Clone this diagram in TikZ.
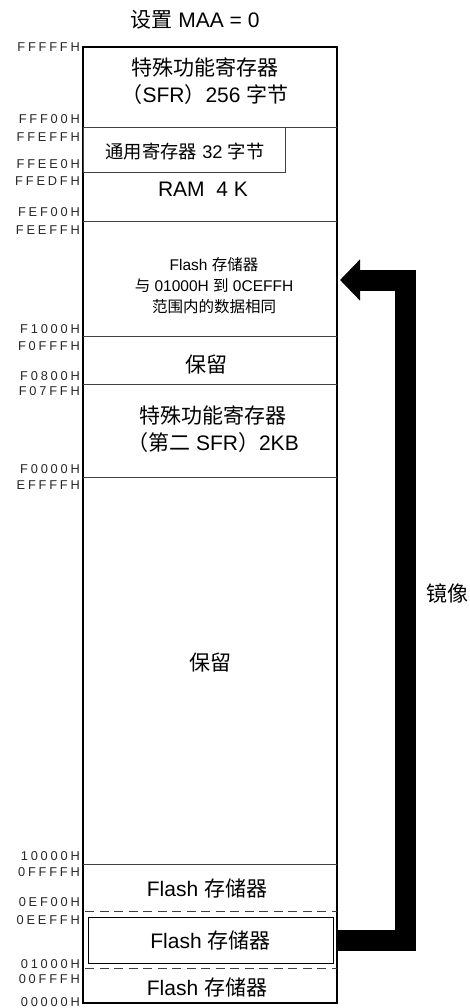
\documentclass[tikz,border=0pt]{standalone}
\usepackage{fontspec}
\setmainfont{Liberation Sans}
\newfontfamily\cjk{Noto Sans CJK SC}
\newfontfamily\addrfont[LetterSpace=22]{Liberation Sans}
\usetikzlibrary{arrows.meta}
\newcommand\C[1]{{\cjk #1}}
\begin{document}
\begin{tikzpicture}[x=1pt,y=-1pt,
  addr/.style={anchor=east, inner sep=0pt, font=\addrfont\fontsize{12.8}{14}\selectfont, text=black!85},
  big/.style={inner sep=0pt, font=\fontsize{21}{27}\selectfont, align=center},
  mid/.style={inner sep=0pt, font=\fontsize{18.3}{22}\selectfont, align=center},
  small/.style={inner sep=0pt, font=\fontsize{15.5}{21}\selectfont, align=center},
  divider/.style={draw=black!75, line width=0.8pt},
  dashdiv/.style={draw=black!75, line width=0.8pt, dash pattern=on 9pt off 5.5pt},
  mirrorarrow/.style={line width=21pt, -{Triangle[length=20pt,width=40pt]}}
]
\useasboundingbox (0,0) rectangle (469,1008);

% title
\node[big] (title) at (195,20) {\C{设置} MAA = 0};

% main column
\node[draw, line width=1.3pt, minimum width=254pt, minimum height=956pt, inner sep=0pt] (mem) at (210,525) {};

% dividers
\draw[divider] (83,127) -- (337,127);
\draw[divider] (83,221) -- (337,221);
\draw[divider] (83,336) -- (337,336);
\draw[divider] (83,384) -- (337,384);
\draw[divider] (83,477) -- (337,477);
\draw[divider] (83,864) -- (337,864);
\draw[dashdiv] (85,911) -- (337,911);
\draw[dashdiv] (85,968) -- (337,968);

% general purpose register box
\node[draw=black!75, line width=0.8pt, minimum width=202pt, minimum height=45pt, inner sep=0pt, anchor=north west] (gpr) at (83,127) {};
\node[mid] (gprtext) at (185,152) {\C{通用寄存器} 32 \C{字节}};

% region texts
\node[big] (sfr) at (205,81.5) {\C{特殊功能寄存器}\\\C{（}SFR\C{）}256 \C{字节}};
\node[big] (ram) at (203,189) {RAM\ \ 4 K};
\node[small] (fm) at (214,286) {Flash \C{存储器}\\\C{与} 01000H \C{到} 0CEFFH\\\C{范围内的数据相同}};
\node[big] (res1) at (206,365) {\C{保留}};
\node[big] (sfr2) at (213,429.5) {\C{特殊功能寄存器}\\\C{（第二} SFR\C{）}2KB};
\node[big] (res2) at (210,663) {\C{保留}};
\node[big] (fl1) at (207,888) {Flash \C{存储器}};
\node[draw=black, line width=0.8pt, minimum width=245pt, minimum height=46pt, inner sep=0pt, font=\fontsize{21}{27}\selectfont] (inflash) at (210.5,940) {Flash \C{存储器}};
\node[big] (fl3) at (207,987) {Flash \C{存储器}};

% address labels
\node[addr] (a1) at (80,47) {FFFFFH};
\node[addr] (a2) at (80,119) {FFF00H};
\node[addr] (a3) at (80,137) {FFEFFH};
\node[addr] (a4) at (80,164) {FFEE0H};
\node[addr] (a5) at (80,181) {FFEDFH};
\node[addr] (a6) at (80,212) {FEF00H};
\node[addr] (a7) at (80,230) {FEEFFH};
\node[addr] (a8) at (80,329) {F1000H};
\node[addr] (a9) at (80,346) {F0FFFH};
\node[addr] (a10) at (80,376) {F0800H};
\node[addr] (a11) at (80,391) {F07FFH};
\node[addr] (a12) at (80,469) {F0000H};
\node[addr] (a13) at (80,485) {EFFFFH};
\node[addr] (a14) at (80,856) {10000H};
\node[addr] (a15) at (80,872) {0FFFFH};
\node[addr] (a16) at (80,902) {0EF00H};
\node[addr] (a17) at (80,920) {0EEFFH};
\node[addr] (a18) at (80,964) {01000H};
\node[addr] (a19) at (80,979) {00FFFH};
\node[addr] (a20) at (80,1002) {00000H};

% mirror arrow
\coordinate (bend) at (405,280);
\coordinate (tip) at (340,280);
\draw[mirrorarrow] (inflash.center -| mem.east) -| (bend) -- (tip);
\node[big] (mirror) at (447,593) {\C{镜像}};
\end{tikzpicture}
\end{document}
